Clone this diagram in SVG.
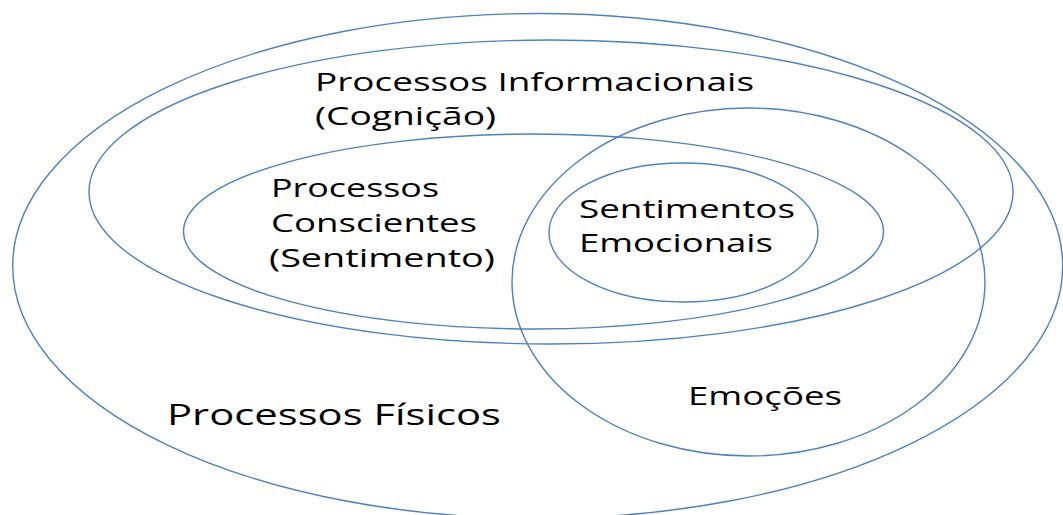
<svg xmlns="http://www.w3.org/2000/svg" width="1063" height="515" viewBox="0 0 1063 515">
  <style>
    .ring { fill: none; stroke: #4F81BD; stroke-width: 1.4; }
    .lbl { font-family: "Open Sans", "Noto Sans", "Liberation Sans", sans-serif; font-size: 25px; fill: #000; }
    .big { font-size: 30px; }
  </style>
  <rect width="1063" height="515" fill="#ffffff"/>
  <g id="fisicos">
    <ellipse class="ring" cx="537.7" cy="266" rx="525" ry="252.5"/>
    <text class="lbl big" x="167" y="425" textLength="334" lengthAdjust="spacingAndGlyphs">Processos Físicos</text>
  </g>
  <g id="informacionais">
    <ellipse class="ring" cx="551" cy="192" rx="462" ry="152"/>
    <text class="lbl" x="315" y="91" textLength="439" lengthAdjust="spacingAndGlyphs">Processos Informacionais</text>
    <text class="lbl" x="315" y="125" textLength="181" lengthAdjust="spacingAndGlyphs">(Cognição)</text>
  </g>
  <g id="conscientes">
    <ellipse class="ring" cx="533.5" cy="231.5" rx="350" ry="97.5"/>
    <text class="lbl" x="271" y="197" textLength="168" lengthAdjust="spacingAndGlyphs">Processos</text>
    <text class="lbl" x="271" y="232" textLength="206" lengthAdjust="spacingAndGlyphs">Conscientes</text>
    <text class="lbl" x="269" y="267" textLength="226" lengthAdjust="spacingAndGlyphs">(Sentimento)</text>
  </g>
  <g id="emocoes">
    <ellipse class="ring" cx="748.5" cy="282" rx="236.5" ry="174"/>
    <text class="lbl" x="688" y="405" textLength="154" lengthAdjust="spacingAndGlyphs">Emoções</text>
  </g>
  <g id="sentimentos-emocionais">
    <ellipse class="ring" cx="683.5" cy="232.5" rx="134.5" ry="69.5"/>
    <text class="lbl" x="579" y="218" textLength="216" lengthAdjust="spacingAndGlyphs">Sentimentos</text>
    <text class="lbl" x="579" y="252" textLength="194" lengthAdjust="spacingAndGlyphs">Emocionais</text>
  </g>
  <g id="connectors"></g>
</svg>
